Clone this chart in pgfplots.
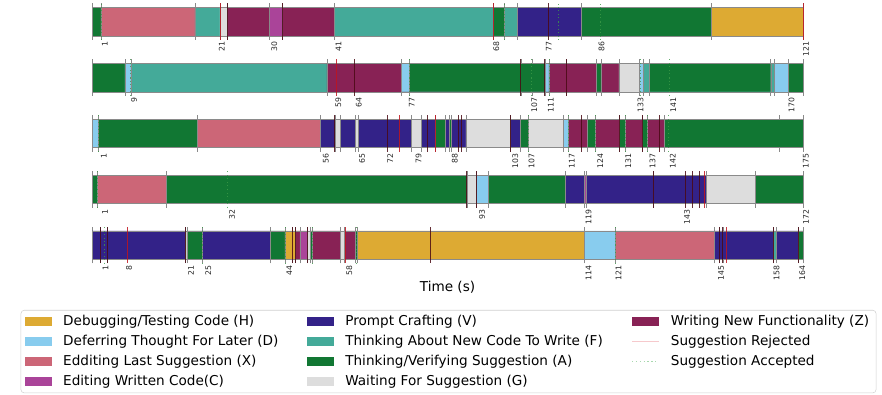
\documentclass[border=0pt]{standalone}
\usepackage{fontspec}
\setmainfont{DejaVu Sans}
\usepackage{pgfplots}
\pgfplotsset{compat=1.18}

\definecolor{cH}{HTML}{DDAA33}
\definecolor{cD}{HTML}{88CCEE}
\definecolor{cX}{HTML}{CC6677}
\definecolor{cC}{HTML}{AA4499}
\definecolor{cV}{HTML}{332288}
\definecolor{cF}{HTML}{44AA99}
\definecolor{cA}{HTML}{117733}
\definecolor{cG}{HTML}{DDDDDD}
\definecolor{cZ}{HTML}{882255}
\definecolor{edge}{HTML}{8A8A8A}
\definecolor{rejc}{HTML}{C0141E}
\definecolor{rejd}{HTML}{4A0A14}
\definecolor{accc}{HTML}{3C9A48}
\definecolor{rejleg}{HTML}{F6C9CC}
\definecolor{accleg}{HTML}{A8D8AE}

\pgfplotsset{
  tlrow/.style={
    anchor=north west,
    scale only axis, width=533.25pt, height=27.36pt,
    ymin=-0.14, ymax=1.14,
    axis line style={draw=none},
    ytick=\empty,
    major tick length=0pt, minor tick length=0pt,
    xticklabel style={xshift=2.2pt, rotate=90, anchor=east, font=\fontsize{5.8}{6}\selectfont, inner sep=1.2pt, text=black!85},
    extra x tick style={grid=major, major grid style={draw=edge, line width=0.4pt}},
    extra x tick labels={},
    clip=false,
  },
  seg/.style={const plot mark left, draw=edge, line width=0.35pt, fill=#1, mark=none, forget plot},
  rej/.style={draw=none, mark=none, forget plot, error bars/.cd, y dir=both, y fixed=0.64, error mark=none, error bar style={draw=rejc, line width=0.6pt, opacity=0.85}},
  rejdark/.style={draw=none, mark=none, forget plot, error bars/.cd, y dir=both, y fixed=0.64, error mark=none, error bar style={draw=rejd, line width=0.6pt, opacity=0.85}},
  acc/.style={draw=none, mark=none, forget plot, error bars/.cd, y dir=both, y fixed=0.64, error mark=none, error bar style={draw=accc, line width=0.6pt, dotted, opacity=0.8}},
  patchimg/.style={legend image code/.code={\fill[##1, sharp corners] (0pt,-3.4pt) rectangle (20.25pt,3.4pt);}},
  lineimg/.style={legend image code/.code={\draw[##1, sharp corners] (0pt,0pt) -- (20.25pt,0pt);}},
}

\begin{document}
\begin{tikzpicture}
\useasboundingbox (0pt,0pt) rectangle (661.5pt,-295.5pt);

% ---------------- Row 1 ----------------
\begin{axis}[tlrow, at={(69pt,-2.55pt)}, xmin=-0.7, xmax=121,
  xtick={1,21,30,41,68,77,86,121},
  xticklabels={1,21,30,41,68,77,86,121},
  extra x ticks={-0.7,0.83,16.9,21.2,22.5,29.7,31.9,40.7,68.0,69.9,72.1,83.05,105.3,121}]
\addplot[seg=cA] coordinates {(-0.7,1) (0.83,0) (68.0,1) (69.9,0) (83.05,1) (105.3,0)} \closedcycle;
\addplot[seg=cX] coordinates {(0.83,1) (16.9,0)} \closedcycle;
\addplot[seg=cF] coordinates {(16.9,1) (21.2,0) (40.7,1) (68.0,0) (69.9,1) (72.1,0)} \closedcycle;
\addplot[seg=cG] coordinates {(21.2,1) (22.5,0)} \closedcycle;
\addplot[seg=cZ] coordinates {(22.5,1) (29.7,0) (31.9,1) (40.7,0)} \closedcycle;
\addplot[seg=cC] coordinates {(29.7,1) (31.9,0)} \closedcycle;
\addplot[seg=cV] coordinates {(72.1,1) (83.05,0)} \closedcycle;
\addplot[seg=cH] coordinates {(105.3,1) (121,0)} \closedcycle;
\addplot[rej] coordinates {(21.2,0.5) (68.0,0.5) (121,0.5)};
\addplot[rejdark] coordinates {(22.5,0.5) (31.9,0.5) (77.4,0.5)};
\addplot[acc] coordinates {(0.83,0.5) (69.9,0.5) (79.1,0.5) (86.3,0.5)};
\end{axis}

% ---------------- Row 2 ----------------
\begin{axis}[tlrow, at={(69pt,-44.475pt)}, xmin=-0.6, xmax=173.5,
  xtick={9,59,64,77,107,111,133,141,170},
  xticklabels={9,59,64,77,107,111,133,141,170},
  extra x ticks={-0.6,7.46,8.9,56.9,75.05,77.1,104.4,107.1,110.3,111.3,115.5,122.8,124.0,128.4,133.4,134.4,135.9,165.6,166.4,169.8,173.5}]
\addplot[seg=cA] coordinates {(-0.6,1) (7.46,0) (77.1,1) (110.3,0) (122.8,1) (124.0,0) (135.9,1) (165.6,0) (169.8,1) (173.5,0)} \closedcycle;
\addplot[seg=cD] coordinates {(7.46,1) (8.9,0) (75.05,1) (77.1,0) (110.3,1) (111.3,0) (133.4,1) (134.4,0) (166.4,1) (169.8,0)} \closedcycle;
\addplot[seg=cF] coordinates {(8.9,1) (56.9,0) (134.4,1) (135.9,0) (165.6,1) (166.4,0)} \closedcycle;
\addplot[seg=cZ] coordinates {(56.9,1) (75.05,0) (111.3,1) (122.8,0) (124.0,1) (128.4,0)} \closedcycle;
\addplot[seg=cG] coordinates {(128.4,1) (133.4,0)} \closedcycle;
\addplot[rej] coordinates {(59.3,0.5)};
\addplot[rejdark] coordinates {(63.6,0.5) (104.4,0.5) (110.1,0.5) (115.5,0.5)};
\addplot[acc] coordinates {(8.9,0.5) (77.1,0.5) (107.1,0.5) (111.3,0.5) (133.6,0.5) (140.8,0.5)};
\end{axis}

% ---------------- Row 3 ----------------
\begin{axis}[tlrow, at={(69pt,-86.4pt)}, xmin=-1.2, xmax=175,
  xtick={1,56,65,72,79,88,103,107,117,124,131,137,142,175},
  xticklabels={1,56,65,72,79,88,103,107,117,124,131,137,142,175},
  extra x ticks={-1.2,0.33,24.87,55.46,59.18,60.25,64.14,64.78,78.02,80.33,83.97,86.45,87.27,87.94,91.48,102.56,104.87,106.92,115.6,116.84,121.65,123.63,129.48,130.9,135.18,136.42,140.56,169.1,175}]
\addplot[seg=cD] coordinates {(-1.2,1) (0.33,0) (115.6,1) (116.84,0)} \closedcycle;
\addplot[seg=cA] coordinates {(0.33,1) (24.87,0) (83.97,1) (86.45,0) (87.27,1) (87.94,0) (104.87,1) (106.92,0) (121.65,1) (123.63,0) (129.48,1) (130.9,0) (135.18,1) (136.42,0) (140.56,1) (175,0)} \closedcycle;
\addplot[seg=cX] coordinates {(24.87,1) (55.46,0)} \closedcycle;
\addplot[seg=cV] coordinates {(55.46,1) (59.18,0) (60.25,1) (64.14,0) (64.78,1) (78.02,0) (80.33,1) (83.97,0) (86.45,1) (87.27,0) (87.94,1) (91.48,0) (102.56,1) (104.87,0)} \closedcycle;
\addplot[seg=cG] coordinates {(59.18,1) (60.25,0) (64.14,1) (64.78,0) (78.02,1) (80.33,0) (91.48,1) (102.56,0) (106.92,1) (115.6,0)} \closedcycle;
\addplot[seg=cZ] coordinates {(116.84,1) (121.65,0) (123.63,1) (129.48,0) (130.9,1) (135.18,0) (136.42,1) (140.56,0)} \closedcycle;
\addplot[rej] coordinates {(74.95,0.5) (83.97,0.5)};
\addplot[rejdark] coordinates {(58.8,0.5) (71.97,0.5) (81.98,0.5) (89.6,0.5) (90.4,0.5) (102.6,0.5) (120.2,0.5) (129.5,0.5) (135.2,0.5) (139.4,0.5)};
\addplot[acc] coordinates {(0.33,0.5) (106.9,0.5) (116.8,0.5) (123.6,0.5) (130.9,0.5) (136.4,0.5) (141.6,0.5)};
\end{axis}

% ---------------- Row 4 ----------------
\begin{axis}[tlrow, at={(69pt,-128.325pt)}, xmin=-1.44, xmax=172,
  xtick={1,32,93,119,143,172},
  xticklabels={1,32,93,119,143,172},
  extra x ticks={-1.44,-0.05,16.76,89.99,92.28,95.28,113.96,118.66,119.2,135.5,148.3,160.3,172}]
\addplot[seg=cA] coordinates {(-1.44,1) (-0.05,0) (16.76,1) (89.99,0) (95.28,1) (113.96,0) (160.3,1) (172,0)} \closedcycle;
\addplot[seg=cX] coordinates {(-0.05,1) (16.76,0)} \closedcycle;
\addplot[seg=cG] coordinates {(89.99,1) (92.28,0) (148.3,1) (160.3,0)} \closedcycle;
\addplot[seg=cD] coordinates {(92.28,1) (95.28,0)} \closedcycle;
\addplot[seg=cV] coordinates {(113.96,1) (118.66,0) (119.2,1) (148.3,0)} \closedcycle;
\addplot[seg=cC] coordinates {(118.66,1) (119.2,0)} \closedcycle;
\addplot[rej] coordinates {(148.0,0.5)};
\addplot[rejdark] coordinates {(89.99,0.5) (92.28,0.5) (135.5,0.5) (143.3,0.5) (145.1,0.5) (146.7,0.5)};
\addplot[acc] coordinates {(-0.05,0.5) (31.6,0.5)};
\end{axis}

% ---------------- Row 5 ----------------
\begin{axis}[tlrow, at={(69pt,-170.25pt)}, xmin=-1.5, xmax=164.85,
  xtick={1,6.5,21,25,44,58,114,121,145,158,164},
  xticklabels={1,8,21,25,44,58,114,121,145,158,164},
  extra x ticks={-1.5,0.37,2.17,20.42,20.72,24.30,40.21,43.65,45.4,46.16,47.16,48.96,49.57,50.13,56.52,57.53,60.20,60.57,113.61,120.93,144.10,145.3,146.1,157.90,158.70,163.75,164.85},
  xlabel={Time (s)},
  xlabel style={at={(axis description cs:0.5,-0.644)}, anchor=center, font=\fontsize{10.2}{12}\selectfont},
  legend columns=3,
  legend cell align=left,
  legend style={at={(0.5014,-1.275)}, anchor=north, draw=black!18, rounded corners=2.5pt, fill=white,
    font=\fontsize{10.2}{12}\selectfont, inner xsep=3pt, inner ysep=1pt,
    nodes={inner sep=2.2pt, text height=8pt, text depth=2.6pt},
    /tikz/every even column/.append style={column sep=19.25pt},
    /tikz/every odd column/.append style={column sep=6.25pt}},
]
\addlegendimage{patchimg, fill=cH, draw=none}\addlegendentry{Debugging/Testing Code (H)}
\addlegendimage{patchimg, fill=cV, draw=none}\addlegendentry{Prompt Crafting (V)}
\addlegendimage{patchimg, fill=cZ, draw=none}\addlegendentry{Writing New Functionality (Z)}
\addlegendimage{patchimg, fill=cD, draw=none}\addlegendentry{Deferring Thought For Later (D)}
\addlegendimage{patchimg, fill=cF, draw=none}\addlegendentry{Thinking About New Code To Write (F)}
\addlegendimage{lineimg, draw=rejleg, line width=0.9pt}\addlegendentry{Suggestion Rejected}
\addlegendimage{patchimg, fill=cX, draw=none}\addlegendentry{Edditing Last Suggestion (X)}
\addlegendimage{patchimg, fill=cA, draw=none}\addlegendentry{Thinking/Verifying Suggestion (A)}
\addlegendimage{lineimg, draw=accleg, line width=0.9pt, dotted}\addlegendentry{Suggestion Accepted}
\addlegendimage{patchimg, fill=cC, draw=none}\addlegendentry{Editing Written Code(C)}
\addlegendimage{patchimg, fill=cG, draw=none}\addlegendentry{Waiting For Suggestion (G)}
\addplot[seg=cV] coordinates {(-1.5,1) (20.42,0) (24.30,1) (40.21,0) (144.10,1) (157.90,0) (158.70,1) (163.75,0)} \closedcycle;
\addplot[seg=cG] coordinates {(20.42,1) (20.72,0) (48.96,1) (49.57,0) (56.52,1) (57.53,0)} \closedcycle;
\addplot[seg=cA] coordinates {(20.72,1) (24.30,0) (40.21,1) (43.65,0) (49.57,1) (50.13,0) (60.20,1) (60.57,0) (163.75,1) (164.85,0)} \closedcycle;
\addplot[seg=cH] coordinates {(43.65,1) (46.16,0) (60.57,1) (113.61,0)} \closedcycle;
\addplot[seg=cZ] coordinates {(46.16,1) (47.16,0) (50.13,1) (56.52,0) (57.53,1) (60.20,0)} \closedcycle;
\addplot[seg=cC] coordinates {(47.16,1) (48.96,0)} \closedcycle;
\addplot[seg=cD] coordinates {(113.61,1) (120.93,0)} \closedcycle;
\addplot[seg=cX] coordinates {(120.93,1) (144.10,0)} \closedcycle;
\addplot[seg=cF] coordinates {(157.90,1) (158.70,0)} \closedcycle;
\addplot[rej] coordinates {(6.76,0.5) (57.7,0.5) (147.0,0.5)};
\addplot[rejdark] coordinates {(0.37,0.5) (2.17,0.5) (20.42,0.5) (45.4,0.5) (46.16,0.5) (48.96,0.5) (77.6,0.5) (145.3,0.5) (146.1,0.5) (157.9,0.5) (163.75,0.5)};
\addplot[acc] coordinates {(1.37,0.5) (24.3,0.5) (43.65,0.5) (50.1,0.5) (60.3,0.5) (120.93,0.5)};
\end{axis}
\end{tikzpicture}
\end{document}
